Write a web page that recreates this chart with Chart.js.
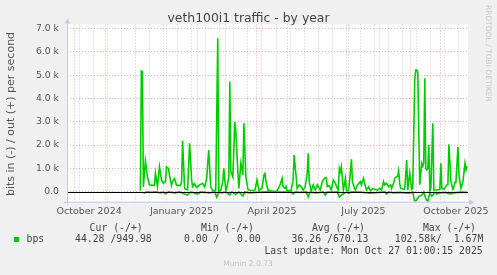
<!DOCTYPE html>
<html>
<head>
<meta charset="utf-8">
<script src="https://cdn.jsdelivr.net/npm/chart.js@4.4.1/dist/chart.umd.min.js"></script>
<style>
  html, body { margin: 0; padding: 0; background: #f0f0f0; }
</style>
</head>
<body>
<canvas id="chart" width="497" height="275"></canvas>
<script>
// x axis is in days, day 0 = 2024-09-24 (graph spans 399 days)
const dayCount = 399;

// out (+) in bits per second
const outDays = [73, 74, 75, 76, 78, 80, 82, 85, 87, 88, 90, 92, 94, 96, 98, 99, 101, 102, 104, 105,
  107, 109, 113, 114, 115, 117, 118, 120, 122, 124, 125, 127, 129, 132, 135, 137, 139, 141, 143, 145,
  148, 150, 151, 153, 155, 156, 158, 159, 161, 162, 163, 165, 167, 168, 170, 171, 173, 175, 176, 178,
  180, 182, 187, 189, 191, 194, 196, 197, 198, 200, 204, 209, 212, 214, 215, 217, 218, 219, 223, 225,
  226, 228, 229, 231, 233, 235, 237, 239, 240, 241, 243, 245, 247, 249, 251, 252, 254, 256, 258, 259,
  261, 263, 264, 265, 267, 269, 270, 271, 272, 273, 275, 277, 278, 280, 281, 283, 284, 286, 287, 289,
  292, 293, 295, 297, 298, 300, 302, 304, 306, 309, 311, 313, 315, 316, 318, 320, 322, 323, 325, 326,
  328, 329, 330, 331, 332, 336, 338, 339, 341, 343, 344, 346, 347, 348, 349, 351, 353, 354, 355, 356,
  357, 358, 359, 360, 361, 362, 364, 365, 367, 369, 371, 372, 373, 375, 378, 379, 380, 382, 384, 385,
  386, 387, 389, 390, 392, 394, 396, 397, 398];
const outBps = [50, 5180, 5150, 200, 1320, 640, 290, 270, 270, 790, 220, 1070, 500, 360, 430, 1070, 1000, 700, 270, 430,
  570, 270, 270, 430, 2180, 150, 100, 80, 2080, 500, 220, 340, 180, 290, 360, 200, 570, 1790, 210, 40,
  40, 6580, 20, 50, 430, 1000, 50, 140, 640, 4720, 860, 640, 3000, 2570, 860, 140, 1220, 720, 2930, 640,
  100, 50, 50, 500, 50, 140, 720, 780, 430, 70, 20, 20, 290, 570, 220, 140, 220, 50, 50, 500,
  1570, 640, 140, 290, 220, 70, 220, 790, 1650, 430, 40, 290, 70, 290, 140, 70, 430, 570, 600, 220,
  250, 70, 300, 500, 360, 140, 70, 1000, 850, 1070, 70, 570, 70, 40, 360, 1390, 430, 140, 70, 290,
  430, 290, 570, 210, 70, 210, 40, 140, 100, 70, 140, 70, 430, 290, 360, 210, 290, 140, 360, 570,
  640, 660, 900, 360, 140, 100, 1360, 70, 790, 100, 140, 4800, 5220, 5220, 5100, 300, 1220, 1100, 1220, 4860,
  1000, 930, 1000, 2000, 50, 100, 2930, 70, 70, 70, 100, 1220, 140, 100, 290, 300, 2030, 430, 100, 200,
  400, 400, 1930, 720, 140, 430, 1220, 930, 1100];

// in (-) in bits per second, drawn negative
const inDays = [76, 80, 83, 88, 93, 96, 98, 101, 107, 112, 117, 120, 123, 130, 133, 142, 147, 149, 151, 154,
  158, 162, 164, 168, 171, 175, 177, 182, 192, 202, 212, 223, 225, 227, 232, 238, 240, 242, 247, 252,
  255, 257, 259, 262, 269, 271, 273, 276, 278, 280, 283, 292, 301, 311, 316, 318, 320, 325, 331, 339,
  341, 344, 346, 348, 350, 353, 355, 357, 359, 361, 363, 366, 368, 371, 376, 381, 386, 391, 398];
const inBps = [-70, -10, -30, -10, -50, -10, -100, -10, -50, -10, -100, -150, -10, -100, -10, -50, -10, -240, -10, -50,
  -10, -150, -10, -120, -10, -190, -10, -50, -20, 0, -20, -10, -100, -10, -30, -10, -220, -10, -50, -30,
  -10, -140, -10, -20, -10, -240, -140, -70, -10, -70, -10, -20, -70, -30, -10, -100, -10, -50, -30, -70,
  -70, -10, -430, -360, -200, -150, -20, -300, -430, -50, -200, -30, -100, -50, -30, -100, -50, -20, -30];

const yTicks = [0, 500, 1000, 1500, 2000, 2500, 3000, 3500, 4000, 4500, 5000, 5500, 6000, 6500, 7000];
const xLabelMonths = [[2024, 9], [2025, 0], [2025, 3], [2025, 6], [2025, 9]];
const xTickLabels = ["October 2024", "January 2025", "April 2025", "July 2025", "October 2025"];

const legendHead = ["Cur (-/+)", "Min (-/+)", "Avg (-/+)", "Max (-/+)"];
const legendVals = ["44.28 /949.98", "0.00 /   0.00", "36.26 /670.13", "102.58k/  1.67M"];

function dayOf(y, m, d) {
  return (Date.UTC(y, m, d) - Date.UTC(2024, 8, 24)) / 86400000;
}

// vertical grid: month starts (red), every other Sunday (grey), labels mid-month
const xTickKind = new Map();
for (let d = dayOf(2024, 9, 6); d < dayCount; d += 14) xTickKind.set(d, "minor");
for (let i = 0; i < 13; i++) xTickKind.set(dayOf(2024, 9 + i, 1), "major");
const xLabelAt = new Map();
xLabelMonths.forEach(function (ym, i) {
  const d = dayOf(ym[0], ym[1], 1) + 15;
  if (!xTickKind.has(d)) xTickKind.set(d, "label");
  xLabelAt.set(d, xTickLabels[i]);
});
const xTickValues = Array.from(xTickKind.keys()).sort(function (a, b) { return a - b; });

const majorGrid = "rgba(232,110,110,0.55)";
const minorGrid = "rgba(150,150,150,0.5)";
const axisBlue = "#c4c8f4";

const muninDecor = {
  id: "muninDecor",
  beforeDraw(chart) {
    const ctx = chart.ctx, a = chart.chartArea;
    ctx.save();
    ctx.fillStyle = "#f0f0f0";
    ctx.fillRect(0, 0, chart.width, chart.height);
    ctx.fillStyle = "#ffffff";
    ctx.fillRect(a.left, a.top, a.right - a.left, a.bottom - a.top);
    ctx.restore();
  },
  afterDatasetsDraw(chart) {
    const ctx = chart.ctx, a = chart.chartArea;
    const y0 = Math.round(chart.scales.y.getPixelForValue(0)) + 0.5;
    ctx.save();
    // zero rule
    ctx.strokeStyle = "#000";
    ctx.lineWidth = 1;
    ctx.beginPath();
    ctx.moveTo(a.left, y0);
    ctx.lineTo(a.right, y0);
    ctx.stroke();
    // axes with arrows
    ctx.strokeStyle = axisBlue;
    ctx.fillStyle = axisBlue;
    ctx.beginPath();
    ctx.moveTo(a.left + 0.5, a.bottom + 3);
    ctx.lineTo(a.left + 0.5, a.top - 1);
    ctx.moveTo(a.left - 3, a.bottom + 0.5);
    ctx.lineTo(a.right + 1, a.bottom + 0.5);
    ctx.stroke();
    ctx.beginPath();
    ctx.moveTo(a.left - 2.5, a.top - 1);
    ctx.lineTo(a.left + 3.5, a.top - 1);
    ctx.lineTo(a.left + 0.5, a.top - 6);
    ctx.closePath();
    ctx.fill();
    ctx.beginPath();
    ctx.moveTo(a.right + 1, a.bottom - 2.5);
    ctx.lineTo(a.right + 1, a.bottom + 3.5);
    ctx.lineTo(a.right + 6, a.bottom + 0.5);
    ctx.closePath();
    ctx.fill();
    ctx.restore();
  },
  afterDraw(chart) {
    const ctx = chart.ctx;
    ctx.save();
    ctx.textBaseline = "middle";
    // title
    ctx.fillStyle = "#444";
    ctx.font = "12.4px 'DejaVu Sans'";
    ctx.textAlign = "center";
    ctx.fillText("veth100i1 traffic - by year", 248.5, 19);
    // vertical unit label
    ctx.save();
    ctx.translate(11.5, 114);
    ctx.rotate(-Math.PI / 2);
    ctx.fillStyle = "#555";
    ctx.font = "11px 'DejaVu Sans'";
    ctx.fillText("bits in (-) / out (+) per second", 0, 0);
    ctx.restore();
    // watermark
    ctx.save();
    ctx.translate(488, 5);
    ctx.rotate(Math.PI / 2);
    ctx.fillStyle = "#c8c8c8";
    ctx.font = "7.5px 'DejaVu Sans'";
    ctx.textAlign = "left";
    ctx.fillText("RRDTOOL / TOBI OETIKER", 0, 0);
    ctx.restore();
    // legend
    ctx.font = "9.8px 'DejaVu Sans Mono'";
    ctx.fillStyle = "#444";
    ctx.textAlign = "right";
    const headRight = [142.7, 254, 365, 476];
    const valRight = [151.7, 260.7, 368.3, 483.3];
    legendHead.forEach(function (t, i) { ctx.fillText(t, headRight[i], 228); });
    legendVals.forEach(function (t, i) { ctx.fillText(t, valRight[i], 239.5); });
    ctx.textAlign = "left";
    ctx.fillText("bps", 26.5, 239.5);
    ctx.fillStyle = "#00cc00";
    ctx.fillRect(14, 237, 5, 5);
    ctx.fillStyle = "#444";
    ctx.textAlign = "right";
    ctx.fillText("Last update: Mon Oct 27 01:00:15 2025", 482.7, 251);
    ctx.textAlign = "center";
    ctx.fillStyle = "#c4c4c4";
    ctx.font = "7.6px 'DejaVu Sans'";
    ctx.fillText("Munin 2.0.73", 248, 264.5);
    ctx.restore();
  }
};

const chartCanvas = document.getElementById("chart").getContext("2d");

new Chart(chartCanvas, {
  type: "line",
  data: {
    datasets: [{
      label: "out",
      data: outDays.map(function (d, i) { return { x: d, y: outBps[i] }; }),
      borderColor: "#00cc00",
      borderWidth: 1.6,
      pointRadius: 0,
      tension: 0,
      fill: false
    }, {
      label: "in",
      data: inDays.map(function (d, i) { return { x: d, y: inBps[i] }; }),
      borderColor: "#00cc00",
      borderWidth: 1.6,
      pointRadius: 0,
      tension: 0,
      fill: false
    }]
  },
  options: {
    responsive: false,
    animation: false,
    layout: { padding: { left: 0, right: 29, top: 24.5, bottom: 0 } },
    plugins: {
      legend: { display: false },
      title: { display: false },
      tooltip: { enabled: false }
    },
    scales: {
      x: {
        type: "linear",
        min: 0,
        max: dayCount,
        afterFit: function (scale) { scale.height = 73.3; },
        afterBuildTicks: function (scale) {
          scale.ticks = xTickValues.map(function (v) { return { value: v }; });
        },
        ticks: {
          autoSkip: false,
          maxRotation: 0,
          minRotation: 0,
          padding: 4,
          color: "#555",
          font: { family: "DejaVu Sans", size: 9.5 },
          callback: function (v) { return xLabelAt.get(v) || ""; }
        },
        grid: {
          drawTicks: false,
          color: function (c) {
            const k = xTickKind.get(c.tick.value);
            return k === "major" ? majorGrid : (k === "minor" ? minorGrid : "rgba(0,0,0,0)");
          }
        },
        border: { display: false, dash: [1, 2] }
      },
      y: {
        min: -430,
        max: 7170,
        afterFit: function (scale) { scale.width = 67; },
        afterBuildTicks: function (scale) {
          scale.ticks = yTicks.map(function (v) { return { value: v }; });
        },
        ticks: {
          padding: 8,
          color: "#555",
          font: { family: "DejaVu Sans", size: 9.3 },
          callback: function (v) {
            if (v % 1000 !== 0) return "";
            return v === 0 ? "0.0" : (v / 1000).toFixed(1) + " k";
          }
        },
        grid: {
          drawTicks: false,
          color: function (c) { return c.tick.value % 1000 === 0 ? majorGrid : minorGrid; }
        },
        border: { display: false, dash: [1, 2] }
      }
    }
  },
  plugins: [muninDecor]
});
</script>
</body>
</html>
